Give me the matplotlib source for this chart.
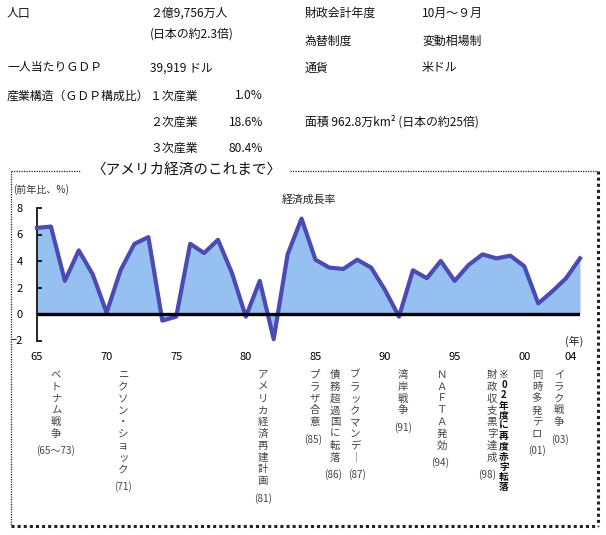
import matplotlib
matplotlib.use("Agg")
import matplotlib.pyplot as plt
from matplotlib.lines import Line2D

plt.rcParams['font.family'] = ['Noto Sans CJK JP', 'DejaVu Sans']

# données : croissance du PIB américain (%)
years = list(range(1965, 2005))
growth = [6.5, 6.6, 2.5, 4.8, 3.0, 0.1, 3.3, 5.3, 5.8, -0.5,
          -0.2, 5.3, 4.6, 5.6, 3.1, -0.2, 2.5, -1.9, 4.5, 7.2,
          4.1, 3.5, 3.4, 4.1, 3.5, 1.8, -0.2, 3.3, 2.7, 4.0,
          2.5, 3.7, 4.5, 4.2, 4.4, 3.6, 0.8, 1.7, 2.7, 4.2]

xtick_pos = [1965, 1970, 1975, 1980, 1985, 1990, 1995, 2000, 2003.3]
xtick_lab = ["65", "70", "75", "80", "85", "90", "95", "00", "04"]
ytick_pos = [-2, 0, 2, 4, 6, 8]

events = ["ベトナム戦争", "ニクソン・ショック", "アメリカ経済再建計画", "プラザ合意",
          "債務超過国に転落", "ブラックマンデ｜", "湾岸戦争", "ＮＡＦＴＡ発効",
          "財政収支黒字達成", "同時多発テロ", "イラク戦争"]
event_years = ["(65〜73)", "(71)", "(81)", "(85)", "(86)", "(87)", "(91)",
               "(94)", "(98)", "(01)", "(03)"]
note = "※02年度に再度赤字転落"

# tableau d'infos en haut : (texte, x px, y px, alignement)
header = [
    ("人口", 7, 13, "left"), ("２億9,756万人", 150, 13, "left"),
    ("(日本の約2.3倍)", 150, 34, "left"),
    ("財政会計年度", 305, 13, "left"), ("10月～９月", 422, 13, "left"),
    ("為替制度", 305, 41, "left"), ("変動相場制", 422, 41, "left"),
    ("一人当たりＧＤＰ", 7, 68, "left"), ("39,919 ドル", 150, 68, "left"),
    ("通貨", 305, 68, "left"), ("米ドル", 422, 68, "left"),
    ("産業構造（ＧＤＰ構成比）", 7, 96, "left"),
    ("１次産業", 150, 96, "left"), ("1.0%", 263, 96, "right"),
    ("２次産業", 150, 122, "left"), ("18.6%", 263, 122, "right"),
    ("面積 962.8万km² (日本の約25倍)", 305, 122, "left"),
    ("３次産業", 150, 148, "left"), ("80.4%", 263, 148, "right"),
]

W, H = 606, 535
fig = plt.figure(figsize=(W / 100, H / 100), dpi=100)


def fx(x):
    return x / W


def fy(y):
    return 1 - y / H


for txt, x, y, ha in header:
    fig.text(fx(x), fy(y), txt, ha=ha, va="center", fontsize=8.6, color="#111111")

# cadre pointillé + ombre
top = 171
box_style = dict(color="#222222", linestyle=(0, (1, 1)), transform=fig.transFigure)
fig.add_artist(Line2D([fx(11), fx(80)], [fy(top), fy(top)], lw=0.9, **box_style))
fig.add_artist(Line2D([fx(290), fx(597)], [fy(top), fy(top)], lw=0.9, **box_style))
fig.add_artist(Line2D([fx(11), fx(11)], [fy(top), fy(525)], lw=0.9, **box_style))
fig.add_artist(Line2D([fx(11), fx(598)], [fy(526), fy(526)], lw=2.2, **box_style))
fig.add_artist(Line2D([fx(598), fx(598)], [fy(top), fy(526)], lw=2.2, **box_style))

fig.text(fx(186), fy(top), "〈アメリカ経済のこれまで〉", ha="center", va="center",
         fontsize=10.5, color="#111111")
fig.text(fx(13), fy(190), "(前年比、%)", ha="left", va="center", fontsize=7.2, color="#333333")
fig.text(fx(309), fy(200), "経済成長率", ha="center", va="center", fontsize=7.8, color="#222222")
fig.text(fx(574), fy(341), "(年)", ha="center", va="center", fontsize=7.8, color="#222222")

# graphique
ax = fig.add_axes([fx(37), fy(340.5), (580 - 37) / W, (340.5 - 208) / H])
ax.fill_between(years, growth, 0, color="#97c0f2", lw=0, zorder=1)
ax.plot(years, growth, color="#4b4bb4", lw=3, solid_joinstyle="round", zorder=3, clip_on=False)
ax.hlines(0, years[0], years[-1], color="black", lw=2.4, zorder=4)

ax.set_xlim(1965, 2004)
ax.set_ylim(-2, 8)
for s in ["top", "right", "bottom"]:
    ax.spines[s].set_visible(False)
ax.spines["left"].set_linewidth(1.2)
ax.set_yticks(ytick_pos)
ax.set_xticks(xtick_pos)
ax.set_xticklabels(xtick_lab)
ax.tick_params(axis="y", direction="in", length=3.5, width=1.2, pad=10, labelsize=8)
ax.tick_params(axis="x", length=0, pad=8, labelsize=8)

# textes verticaux des événements
event_x = [56, 123, 263, 315, 335, 355, 403, 442, 492, 537, 559]
paren_dx = [0, 0, 0, -2, -2, 2, 0, -2, -5, 0, 1]
y0, step = 375, 11.8
for label, yr, x, dx in zip(events, event_years, event_x, paren_dx):
    for i, ch in enumerate(label):
        fig.text(fx(x), fy(y0 + i * step), ch, ha="center", va="center",
                 fontsize=7.5, color="#444444")
    fig.text(fx(x + dx), fy(y0 + (len(label) - 1) * step + 17), yr, ha="center",
             va="center", fontsize=7.2, color="#444444")

for i, ch in enumerate(note):
    fig.text(fx(504), fy(y0 + i * 10.2), ch, ha="center", va="center",
             fontsize=7, color="#111111", fontweight="bold")

fig.savefig("out.png", dpi=100)
